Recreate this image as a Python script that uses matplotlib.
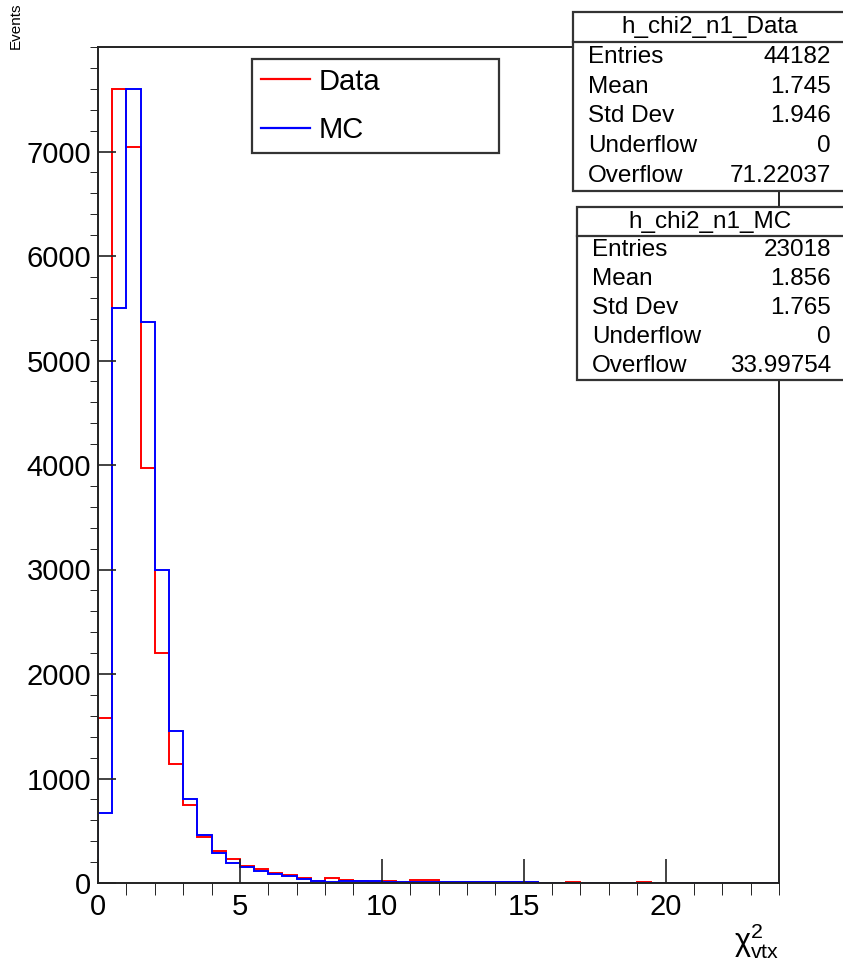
import numpy as np
import matplotlib
matplotlib.use("Agg")
import matplotlib.pyplot as plt
from matplotlib.patches import Rectangle
from matplotlib.lines import Line2D
from matplotlib.ticker import MultipleLocator

plt.rcParams['font.family'] = ['Liberation Sans', 'DejaVu Sans']
plt.rcParams['mathtext.fontset'] = 'custom'
plt.rcParams['mathtext.rm'] = 'Liberation Sans'
plt.rcParams['mathtext.it'] = 'Liberation Sans:italic'

# histogram binning: 48 bins of 0.5 from 0 to 24
bin_edges = np.linspace(0, 24, 49)

data_counts = [1580, 7600, 7040, 3970, 2200, 1140, 750, 440, 305, 225,
               160, 135, 100, 80, 45, 20, 50, 25, 20, 12,
               15, 10, 30, 30, 8, 8, 6, 6, 5, 5,
               5, 3, 3, 10, 0, 0, 0, 0, 10, 0,
               0, 0, 0, 0, 0, 0, 0, 0]
mc_counts = [670, 5500, 7600, 5370, 3000, 1450, 800, 455, 285, 195,
             155, 115, 88, 68, 42, 15, 12, 20, 20, 18,
             14, 12, 10, 10, 10, 8, 8, 8, 6, 6,
             6, 0, 0, 0, 0, 0, 0, 0, 0, 0,
             0, 0, 0, 0, 0, 0, 0, 0]

stat_labels = ['Entries', 'Mean', 'Std Dev', 'Underflow', 'Overflow']
data_stat_values = ['44182', '1.745', '1.946', '0', '71.22037']
mc_stat_values = ['23018', '1.856', '1.765', '0', '33.99754']

x_ticks = [0, 5, 10, 15, 20]
y_ticks = [0, 1000, 2000, 3000, 4000, 5000, 6000, 7000]

W, H = 843, 963


def fx(px):
    return px / W


def fy(py):
    return 1 - py / H


fig = plt.figure(figsize=(W / 100, H / 100), dpi=100)
ax = fig.add_axes([fx(98), fy(883), fx(779) - fx(98), fy(47) - fy(883)])

ax.stairs(data_counts, bin_edges, color='#ff0000', lw=1.4, label='Data')
ax.stairs(mc_counts, bin_edges, color='#0000ff', lw=1.4, label='MC')

ax.set_xlim(0, 24)
ax.set_ylim(0, 8000)
ax.set_xticks(x_ticks)
ax.set_yticks(y_ticks)
ax.xaxis.set_minor_locator(MultipleLocator(1))
ax.yaxis.set_minor_locator(MultipleLocator(200))
ax.tick_params(direction='in', top=False, right=False, labelsize=21, width=1.2, color='#222222')
ax.tick_params(axis='x', which='major', length=17, pad=7)
ax.tick_params(axis='x', which='minor', length=8.5)
ax.tick_params(axis='y', which='major', length=13, pad=5)
ax.tick_params(axis='y', which='minor', length=6)
for s in ax.spines.values():
    s.set_linewidth(1.4)
    s.set_color('#222222')

# legend
handles = [Line2D([], [], color='#ff0000', lw=1.6), Line2D([], [], color='#0000ff', lw=1.6)]
leg = ax.legend(handles, ['Data', 'MC'], loc='upper left',
                bbox_to_anchor=(fx(252), fy(59), fx(499) - fx(252), 0.0001),
                bbox_transform=fig.transFigure, mode='expand', borderaxespad=0,
                fontsize=21, handlelength=1.7, handletextpad=0.3, labelspacing=0.7,
                borderpad=0.3, fancybox=False, framealpha=1, edgecolor='#333333')
leg.get_frame().set_linewidth(1.6)

# axis titles
fig.text(fx(779), fy(961), r'$\mathrm{χ}^{2}_{\mathrm{vtx}}$', ha='right', va='bottom', fontsize=22)
fig.text(fx(23), fy(49), 'Events', rotation=90, ha='right', va='bottom', fontsize=11)


# stats boxes
def stats_box(x0, y0, y_sep, y1, title, values):
    fig.add_artist(Rectangle((fx(x0), fy(y1)), fx(852) - fx(x0), fy(y0) - fy(y1),
                             transform=fig.transFigure, facecolor='white',
                             edgecolor='#333333', lw=1.6, zorder=5))
    fig.add_artist(Line2D([fx(x0), fx(852)], [fy(y_sep), fy(y_sep)],
                          transform=fig.transFigure, color='#333333', lw=1.6, zorder=6))
    fig.text(fx(710), fy((y0 + y_sep) / 2), title, ha='center', va='center',
             fontsize=17.5, zorder=7)
    row_h = (y1 - y_sep) / len(values)
    for i, (lab, val) in enumerate(zip(stat_labels, values)):
        yc = y_sep + row_h * (i + 0.5)
        fig.text(fx(x0 + 15), fy(yc), lab, ha='left', va='center', fontsize=17.5, zorder=7)
        fig.text(fx(831), fy(yc), val, ha='right', va='center', fontsize=17.5, zorder=7)


stats_box(573, 12, 42, 191, 'h_chi2_n1_Data', data_stat_values)
stats_box(577, 207, 236, 380, 'h_chi2_n1_MC', mc_stat_values)

fig.savefig('out.png', dpi=100)
